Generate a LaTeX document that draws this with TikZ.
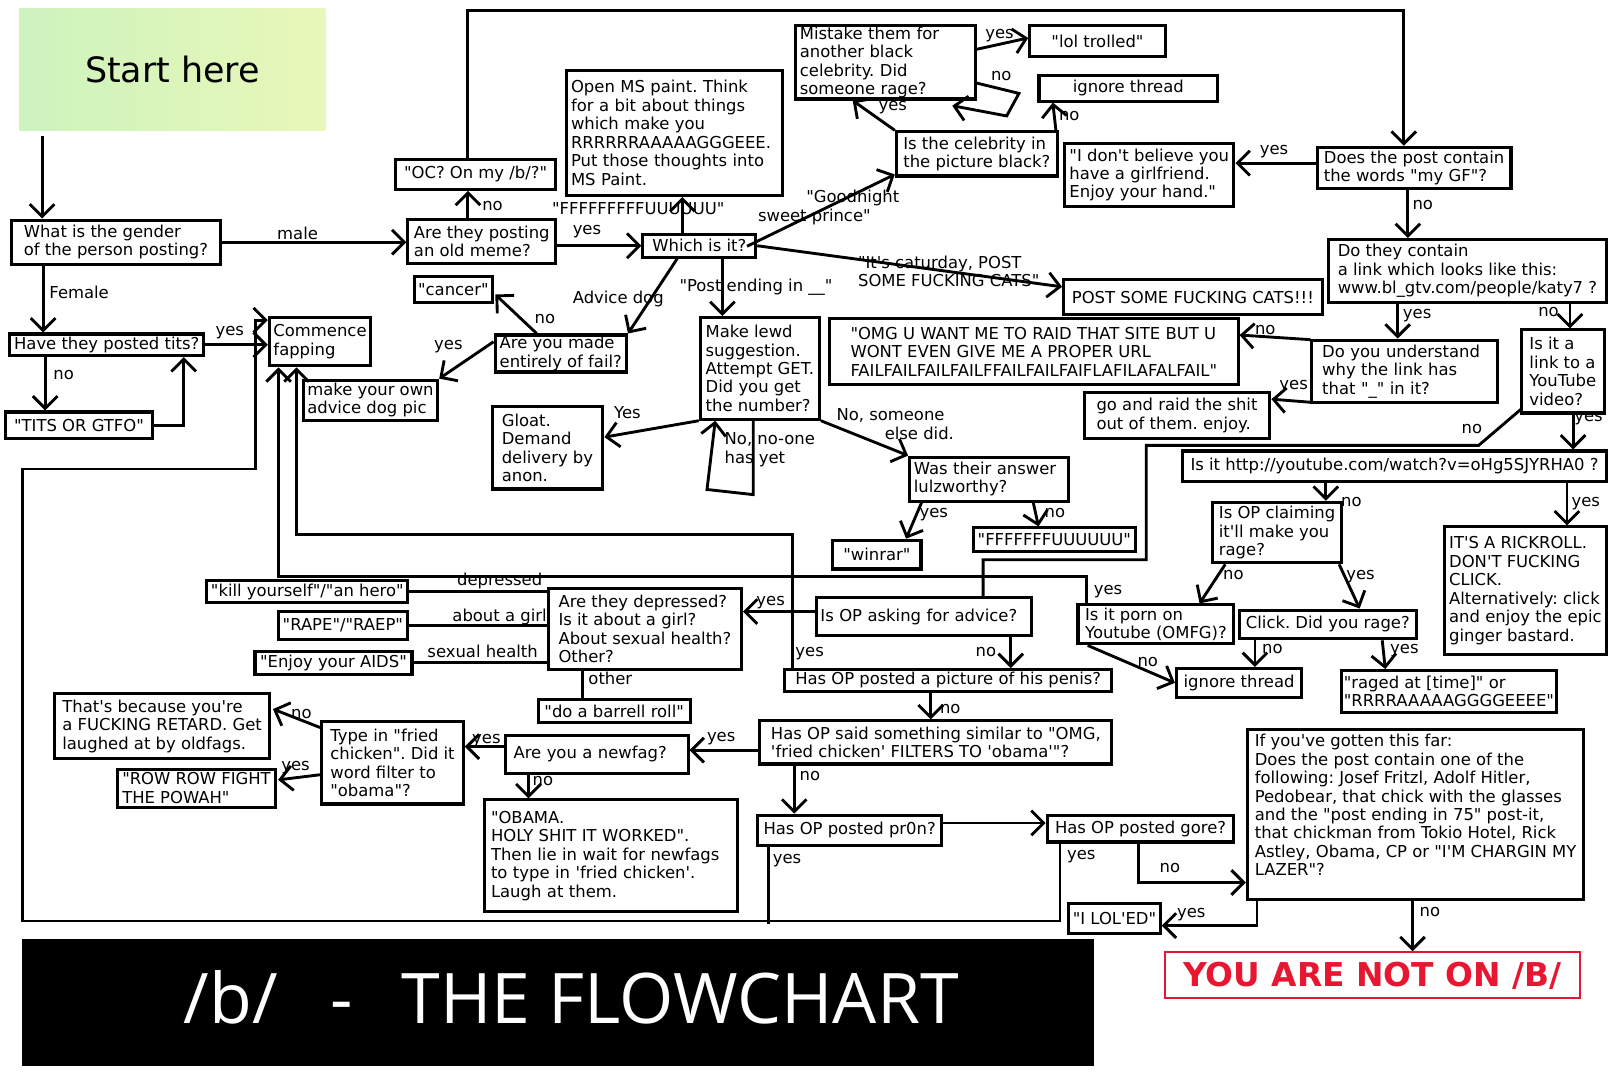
\documentclass[tikz,border=0pt]{standalone}
\usepackage{fontspec}
\newfontfamily\chartfont{DejaVu Sans}
\newfontfamily\titlefont{Open Sans}
\usetikzlibrary{arrows.meta,calc}
\definecolor{startl}{RGB}{205,243,190}
\definecolor{startr}{RGB}{233,247,185}
\definecolor{notred}{RGB}{232,22,48}
\frenchspacing

\begin{document}
\begin{tikzpicture}[x=1pt,y=-1pt,
    box/.style={draw, line width=3pt, anchor=north west, align=left, inner xsep=4pt, inner ysep=1pt,
                font=\chartfont\fontsize{16}{18}\selectfont},
    lbl/.style={inner sep=0pt, anchor=base, font=\chartfont\fontsize{16}{18}\selectfont},
    arr/.style={line width=2.8pt, -{Straight Barb[length=12pt,width=24pt]}},
    ln/.style={line width=2.8pt}]
\useasboundingbox (0,0) rectangle (1568,1051);
\fill[white] (0,0) rectangle (1568,1051);

% Start box
\node[minimum width=298pt, minimum height=119pt, anchor=north west, inner sep=0pt,
      left color=startl, right color=startr, font=\chartfont\fontsize{34}{40}\selectfont] (start) at (19,8) {Start here};

% Boxes, left part
\node[box, minimum width=203pt, minimum height=43pt] (gender) at (10,213) {What is the gender\\of the person posting?};
\node[box, minimum width=189pt, minimum height=21pt, inner xsep=2pt] (tits) at (8,324) {Have they posted tits?};
\node[box, minimum width=143pt, minimum height=26pt] (titsgtfo) at (4,400) {"TITS OR GTFO"};
\node[box, minimum width=97pt, minimum height=47pt] (fap) at (261,308) {Commence\\fapping};
\node[box, minimum width=144pt, minimum height=43pt] (oldmeme) at (396,212) {Are they posting\\an old meme?};
\node[box, minimum width=156pt, minimum height=29pt] (oc) at (384,154) {"OC? On my /b/?"};
\node[box, minimum width=76pt, minimum height=25pt] (cancer) at (402,268) {"cancer"};
\node[box, minimum width=128pt, minimum height=36pt, inner xsep=2pt] (fail) at (481,325) {Are you made\\entirely of fail?};
\node[box, minimum width=131pt, minimum height=39pt, inner xsep=3pt] (advdog) at (294,369) {make your own\\advice dog pic};
\node[box, minimum width=108pt, minimum height=80pt] (gloat) at (478,395) {Gloat.\\Demand\\delivery by\\anon.};

% Boxes, middle
\node[box, text width=202pt, minimum height=122pt] (mspaint) at (551,67) {Open MS paint. Think\\for a bit about things\\which make you\\RRRRRRAAAAAGGGEEE.\\Put those thoughts into\\MS Paint.};
\node[box, minimum width=110pt, minimum height=22pt] (which) at (625,227) {Which is it?};
\node[box, text width=167pt, minimum height=66pt, anchor=south west] (mistake) at (774,98) {Mistake them for\\another black\\celebrity. Did\\someone rage?};
\node[box, minimum width=132pt, minimum height=31pt] (loltrolled) at (1002,23) {"lol trolled"};
\node[box, minimum width=174pt, minimum height=25pt] (ignorea) at (1011,72) {ignore thread};
\node[box, minimum width=157pt, minimum height=43pt] (celeb) at (872,127) {Is the celebrity in\\the picture black?};
\node[box, minimum width=252pt, minimum height=34pt] (cats) at (1035,271) {POST SOME FUCKING CATS!!!};
\node[box, minimum width=398pt, minimum height=64pt] (omgraid) at (807,309) {"OMG U WANT ME TO RAID THAT SITE BUT U\\WONT EVEN GIVE ME A PROPER URL\\FAILFAILFAILFAILFFAILFAILFAIFLAFILAFALFAIL"};
\node[box, minimum width=116pt, minimum height=99pt, inner xsep=3pt] (lewd) at (681,308) {Make lewd\\suggestion.\\Attempt GET.\\Did you get\\the number?};
\node[box, text width=147pt, minimum height=43pt] (lulz) at (885,444) {Was their answer\\lulzworthy?};
\node[box, minimum width=86pt, minimum height=28pt] (winrar) at (810,525) {"winrar"};
\node[box, minimum width=158pt, minimum height=23pt] (ffuu) at (947,513) {"FFFFFFFUUUUUU"};

% Boxes, right part
\node[box, minimum width=165pt, minimum height=62pt] (gfreply) at (1036,138) {"I don't believe you\\have a girlfriend.\\Enjoy your hand."};
\node[box, minimum width=189pt, minimum height=40pt] (mygf) at (1282,142) {Does the post contain\\the words "my GF"?};
\node[box, minimum width=271pt, minimum height=61pt] (link) at (1293,232) {Do they contain\\a link which looks like this:\\www.bl\_gtv.com/people/katy7 ?};
\node[box, text width=161pt, inner xsep=10pt, minimum height=61pt] (understand) at (1277,330) {Do you understand\\why the link has\\that "\_" in it?};
\node[box, minimum width=181pt, minimum height=45pt] (goraid) at (1055,381) {go and raid the shit\\out of them. enjoy.};
\node[box, minimum width=81pt, minimum height=81pt] (ytlink) at (1481,320) {Is it a\\link to a\\YouTube\\video?};
\node[box, minimum width=413pt, minimum height=30pt] (rickurl) at (1151,438) {Is it http://youtube.com/watch?v=oHg5SJYRHA0 ?};
\node[box, minimum width=158pt, minimum height=124pt] (rickroll) at (1406,512) {IT'S A RICKROLL.\\DON'T FUCKING\\CLICK.\\Alternatively: click\\and enjoy the epic\\ginger bastard.};
\node[box, minimum width=126pt, minimum height=59pt] (claimrage) at (1180,488) {Is OP claiming\\it'll make you\\rage?};
\node[box, minimum width=152pt, minimum height=38pt] (porn) at (1049,588) {Is it porn on\\Youtube (OMFG)?};
\node[box, minimum width=173pt, minimum height=28pt] (click) at (1206,593) {Click. Did you rage?};
\node[box, minimum width=122pt, minimum height=28pt] (ignoreb) at (1145,650) {ignore thread};
\node[box, minimum width=209pt, minimum height=41pt, inner xsep=2pt] (raged) at (1306,652) {"raged at [time]" or\\"RRRRAAAAAGGGGEEEE"};

% Boxes, lower part
\node[box, text width=202pt, minimum height=37pt] (advice) at (794,581) {Is OP asking for advice?};
\node[box, minimum width=188pt, minimum height=79pt] (depressed) at (533,572) {Are they depressed?\\Is it about a girl?\\About sexual health?\\Other?};
\node[box, minimum width=196pt, minimum height=22pt, inner xsep=2pt] (killyourself) at (200,564) {"kill yourself"/"an hero"};
\node[box, minimum width=124pt, minimum height=28pt] (rape) at (270,594) {"RAPE"/"RAEP"};
\node[box, minimum width=153pt, minimum height=23pt] (aids) at (247,633) {"Enjoy your AIDS"};
\node[box, minimum width=148pt, minimum height=23pt] (barrel) at (523,680) {"do a barrell roll"};
\node[box, minimum width=319pt, minimum height=21pt] (penis) at (763,651) {Has OP posted a picture of his penis?};
\node[box, minimum width=343pt, minimum height=42pt] (friedchicken) at (739,701) {Has OP said something similar to "OMG,\\'fried chicken' FILTERS TO 'obama'"?};
\node[box, text width=162pt, inner xsep=8pt, minimum height=37pt] (newfag) at (491,715) {Are you a newfag?};
\node[box, minimum width=138pt, minimum height=80pt] (typein) at (312,702) {Type in "fried\\chicken". Did it\\word filter to\\"obama"?};
\node[box, minimum width=209pt, minimum height=64pt] (retard) at (52,674) {That's because you're\\a FUCKING RETARD. Get\\laughed at by oldfags.};
\node[box, minimum width=154pt, minimum height=37pt, inner xsep=2pt] (rowrow) at (113,748) {"ROW ROW FIGHT\\THE POWAH"};
\node[box, text width=234pt, inner xsep=6pt, minimum height=109pt] (obama) at (471,778) {"OBAMA.\\HOLY SHIT IT WORKED".\\Then lie in wait for newfags\\to type in 'fried chicken'.\\Laugh at them.};
\node[box, minimum width=179pt, minimum height=29pt] (pronq) at (737,793) {Has OP posted pr0n?};
\node[box, minimum width=182pt, minimum height=26pt] (gore) at (1019,793) {Has OP posted gore?};
\node[box, minimum width=89pt, minimum height=29pt] (lol) at (1040,879) {"I LOL'ED"};
\node[box, minimum width=328pt, minimum height=166pt, inner xsep=2pt] (final) at (1214,709) {If you've gotten this far:\\Does the post contain one of the\\following: Josef Fritzl, Adolf Hitler,\\Pedobear, that chick with the glasses\\and the "post ending in 75" post-it,\\that chickman from Tokio Hotel, Rick\\Astley, Obama, CP or "I'M CHARGIN MY\\LAZER"?\\\mbox{}};
\node[draw=notred, line width=2pt, minimum width=405pt, minimum height=45pt, anchor=north west, text=notred,
      font=\chartfont\bfseries\fontsize{32}{36}\selectfont] (notonb) at (1134,927) {YOU ARE NOT ON /B/};

% Title bar
\node[fill=black, minimum width=1045pt, minimum height=124pt, anchor=north west, inner sep=0pt] (titlebar) at (21,915) {};
\node[text=white, anchor=base west, inner sep=0pt, font=\titlefont\fontsize{68}{72}\selectfont] (titletext) at (179,997) {/b/\hspace{51pt}-\hspace{48pt}THE FLOWCHART};

% Connectors
\draw[arr] ($(start.south west)+(22,5)$) -- ($(gender.north west)+(31,0)$);
\draw[arr] (gender.east) -- (gender.east -| oldmeme.west);
\draw[arr] ($(gender.south west)+(32,0)$) -- ($(tits.north west)+(34,0)$);
\draw[arr] (tits.east) -- (tits.east -| fap.west);
\draw[arr] ($(tits.south west)+(36,0)$) -- ($(titsgtfo.north west)+(40,0)$);
\draw[arr] (titsgtfo.east) -| ($(tits.south west)+(171,0)$);
\draw[arr] ($(oldmeme.north west)+(60,0)$) -- ($(oc.south west)+(72,0)$);
\draw[arr] ($(oc.north west)+(72,0)$) -- ++(0,-144) -| ($(mygf.north west)+(86,0)$);
\draw[arr] (oldmeme.east |- which.west) -- (which.west);
\draw[arr] ($(which.north west)+(40,0)$) -- ($(mspaint.south west)+(114,0)$);
\draw[arr] ($(which.north east)+(-10,13)$) -- ($(celeb.south west)+(0,-3)$);
\draw[arr] (which.east) -- ($(cats.north west)+(0,8.5)$);
\draw[arr] ($(which.south west)+(79,0)$) -- ($(lewd.north west)+(23,0)$);
\draw[arr] ($(which.south west)+(35,0)$) -- (fail.north east);
\draw[arr] ($(fail.north west)+(42,0)$) -- ($(cancer.south east)+(1,-9)$);
\draw[arr] ($(fail.north west)+(0,8)$) -- (advdog.north east);
\draw[arr] (lewd.south west) -- ($(gloat.north east)+(0,31)$);
\draw[arr] ($(lewd.south west)+(53,0)$) -- ++(0,72) -- ++(-45,-5) -- ($(lewd.south west)+(16,0)$);
\draw[arr] (lewd.south east) -- (lulz.north west);
\draw[arr] ($(lulz.south west)+(13,0)$) -- ($(winrar.north west)+(73,0)$);
\draw[arr] ($(lulz.south west)+(122,0)$) -- ($(ffuu.north west)+(65,0)$);
\draw[arr] (celeb.north west) -- ($(mistake.south west)+(57,0)$);
\draw[arr] ($(mistake.south east)+(0,-17)$) -- ++(41,10) -- ++(-12,22) -- ($(mistake.south east)+(-24,5)$);
\draw[arr] ($(mistake.south east)+(0,-50)$) -- ($(loltrolled.north west)+(0,14)$);
\draw[arr] ($(celeb.north east)+(-3,0)$) -- ($(ignorea.south west)+(15,0)$);
\draw[arr] ($(mygf.north west)+(0,17)$) -- ($(gfreply.north east)+(0,21)$);
\draw[arr] ($(mygf.south west)+(90,0)$) -- ($(link.north west)+(79,0)$);
\draw[arr] ($(link.south west)+(69,0)$) -- ($(understand.north west)+(85,0)$);
\draw[arr] ($(link.south west)+(237,0)$) -- ($(ytlink.north west)+(49,0)$);
\draw[arr] ($(understand.north west)+(0,1)$) -- ($(omgraid.north east)+(0,17.5)$);
\draw[arr] ($(understand.south west)+(0,-2)$) -- ($(goraid.north east)+(0,8)$);
\draw[arr] ($(ytlink.south west)+(52,0)$) -- ($(rickurl.north west)+(382,0)$);
\draw[ln] ($(ytlink.south west)+(1,-5)$) -- ++(-41,35) -- ++(-324,0) -- ++(0,111.5) -| ($(advice.north west)+(164,0)$);
\draw[arr] ($(rickurl.south west)+(376,0)$) -- ($(rickroll.north west)+(121,0)$);
\draw[arr] ($(rickurl.south west)+(141,0)$) -- ($(claimrage.north west)+(112,0)$);
\draw[arr] ($(claimrage.south west)+(14,0)$) -- ($(porn.north west)+(120,0)$);
\draw[arr] ($(claimrage.south east)+(-4,0)$) -- ($(click.north west)+(119,0)$);
\draw[arr] ($(click.south west)+(17,0)$) -- ($(ignoreb.north west)+(78,0)$);
\draw[arr] ($(click.south west)+(141,0)$) -- ($(raged.north west)+(44,0)$);
\draw[arr] ($(porn.south west)+(11,0)$) -- (ignoreb.west);
\draw[arr] ($(porn.north west)+(10,0)$) |- ($(fap.south west)+(10.5,204)$) -- ($(fap.south west)+(10.5,0)$);
\draw[arr] ($(penis.north west)+(9,0)$) |- ($(fap.south west)+(28,162.5)$) -- ($(fap.south west)+(28,0)$);
\draw[arr] ($(advice.north west)+(0,15)$) -- ($(depressed.north east)+(0,24)$);
\draw[arr] ($(advice.south west)+(191,0)$) -- ($(penis.north west)+(222,0)$);
\draw[arr] ($(penis.south west)+(144,0)$) -- ($(friedchicken.north west)+(168,0)$);
\draw[arr] ($(friedchicken.north west)+(0,30)$) -- ($(newfag.north east)+(0,16)$);
\draw[arr] ($(friedchicken.south west)+(35,0)$) -- ($(pronq.north west)+(37,0)$);
\draw[arr] ($(pronq.north east)+(0,9)$) -- ($(gore.north west)+(0,9)$);
% the long way back to fapping
\coordinate (loopsw) at (22,897.5);
\coordinate (loopnw) at (22,457);
\draw[arr] ($(gore.south west)+(14,0)$) |- (loopsw) -- (loopnw) -| ($(fap.north west)+(-12,4)$) -- ($(fap.north west)+(0,4)$);
\draw[ln] ($(pronq.south west)+(12,0)$) -- ++(0,75.5);
\draw[arr] ($(gore.south west)+(90.5,0)$) |- ($(final.north west)+(0,151)$);
\draw[arr] ($(final.south west)+(11,0)$) |- ($(lol.north east)+(0,23)$);
\draw[arr] ($(final.south west)+(162.5,0)$) -- ($(notonb.north west)+(242.5,0)$);
\draw[ln] (depressed.west |- killyourself.east) -- (killyourself.east);
\draw[ln] (depressed.west |- rape.east) -- (rape.east);
\draw[ln] (depressed.west |- aids.east) -- (aids.east);
\draw[ln] ($(depressed.south west)+(35,0)$) -- ($(barrel.north west)+(45,0)$);
\draw[arr] ($(newfag.north west)+(0,12.6)$) -- ($(typein.north east)+(0,25.6)$);
\draw[arr] ($(newfag.south west)+(24,0)$) -- ($(obama.north west)+(44,0)$);
\draw[arr] ($(typein.north west)+(0,7)$) -- ($(retard.north east)+(2,17)$);
\draw[arr] ($(typein.north west)+(0,53)$) -- ($(rowrow.north east)+(1,12)$);

% Labels
\node[lbl] (lmale) at (290,233) {male};
\node[lbl, anchor=base west] (lfemale) at (48,291) {Female};
\node[lbl] (ltitsyes) at (224,327) {yes};
\node[lbl] (ltitsno) at (62,370) {no};
\node[lbl] (lmemeno) at (480,205) {no};
\node[lbl] (lmemeyes) at (572,229) {yes};
\node[lbl] (lffuu) at (622,209.5) {"FFFFFFFFFUUUUUU"};
\node[lbl, anchor=north west, align=left] (lprince) at (738.5,185.3) {\hspace*{47pt}"Goodnight\\sweet prince"};
\node[lbl, anchor=north west, align=left] (lcats) at (836,249.3) {"It's caturday, POST\\SOME FUCKING CATS"};
\node[lbl] (lpost) at (736.7,284.2) {"Post ending in \_\_"};
\node[lbl] (ladvice) at (602.5,295.6) {Advice dog};
\node[lbl] (lfailno) at (531,315.7) {no};
\node[lbl] (lfailyes) at (437,340.4) {yes};
\node[lbl] (lgetyes) at (611.4,407.6) {Yes};
\node[lbl, anchor=north west, align=left] (lnoone) at (706,421.4) {No, no-one\\has yet};
\node[lbl, anchor=north west, align=left] (lsomeone) at (815,398.1) {No, someone\\\hspace*{47pt}else did.};
\node[lbl] (llulzyes) at (910,504.5) {yes};
\node[lbl] (llulzno) at (1028,504.5) {no};
\node[lbl] (lblackyes) at (870,107.2) {yes};
\node[lbl] (lragedno) at (975.7,78) {no};
\node[lbl] (lragedyes) at (974,37.3) {yes};
\node[lbl] (lblackno) at (1042,117) {no};
\node[lbl] (lgfyes) at (1241.6,151) {yes};
\node[lbl] (lgfno) at (1386.5,204) {no};
\node[lbl] (llinkyes) at (1381,310) {yes};
\node[lbl] (llinkno) at (1509,308.6) {no};
\node[lbl] (lunderno) at (1233,325.8) {no};
\node[lbl] (lunderyes) at (1260.7,380) {yes};
\node[lbl] (lytyes) at (1548,410.9) {yes};
\node[lbl] (lytno) at (1434.4,422.3) {no};
\node[lbl] (lrickyes) at (1545.4,493.7) {yes};
\node[lbl] (lrickno) at (1317,493.7) {no};
\node[lbl] (lclaimno) at (1202,565.2) {no};
\node[lbl] (lclaimyes) at (1325.8,565.2) {yes};
\node[lbl] (lpornyes) at (1079.8,579.8) {yes};
\node[lbl] (lclickno) at (1240,636.6) {no};
\node[lbl] (lclickyes) at (1368.6,636.6) {yes};
\node[lbl] (lpornno) at (1118.5,649.6) {no};
\node[lbl] (ladviceyes) at (751,590.5) {yes};
\node[lbl] (lpenisyes) at (789,639.9) {yes};
\node[lbl] (ladviceno) at (960.7,639.9) {no};
\node[lbl] (lpenisno) at (926,695) {no};
\node[lbl] (lfriedyes) at (702.8,722.7) {yes};
\node[lbl] (lfriedno) at (789.3,760.7) {no};
\node[lbl] (lpronyes) at (767,841.3) {yes};
\node[lbl] (lgoreyes) at (1053.7,837.4) {yes};
\node[lbl] (lgoreno) at (1140,850.4) {no};
\node[lbl] (lfinalyes) at (1160.9,893.9) {yes};
\node[lbl] (lfinalno) at (1393.5,893.3) {no};
\node[lbl] (ldepressed) at (486.9,571) {depressed};
\node[lbl] (lgirl) at (486.8,605.8) {about a girl};
\node[lbl] (lhealth) at (470.3,640.5) {sexual health};
\node[lbl] (lother) at (594.8,667.5) {other};
\node[lbl] (lnewfagyes) at (474,724.3) {yes};
\node[lbl] (lnewfagno) at (529,765) {no};
\node[lbl] (ltypeno) at (293.7,700) {no};
\node[lbl] (ltypeyes) at (288,751) {yes};
\end{tikzpicture}
\end{document}
